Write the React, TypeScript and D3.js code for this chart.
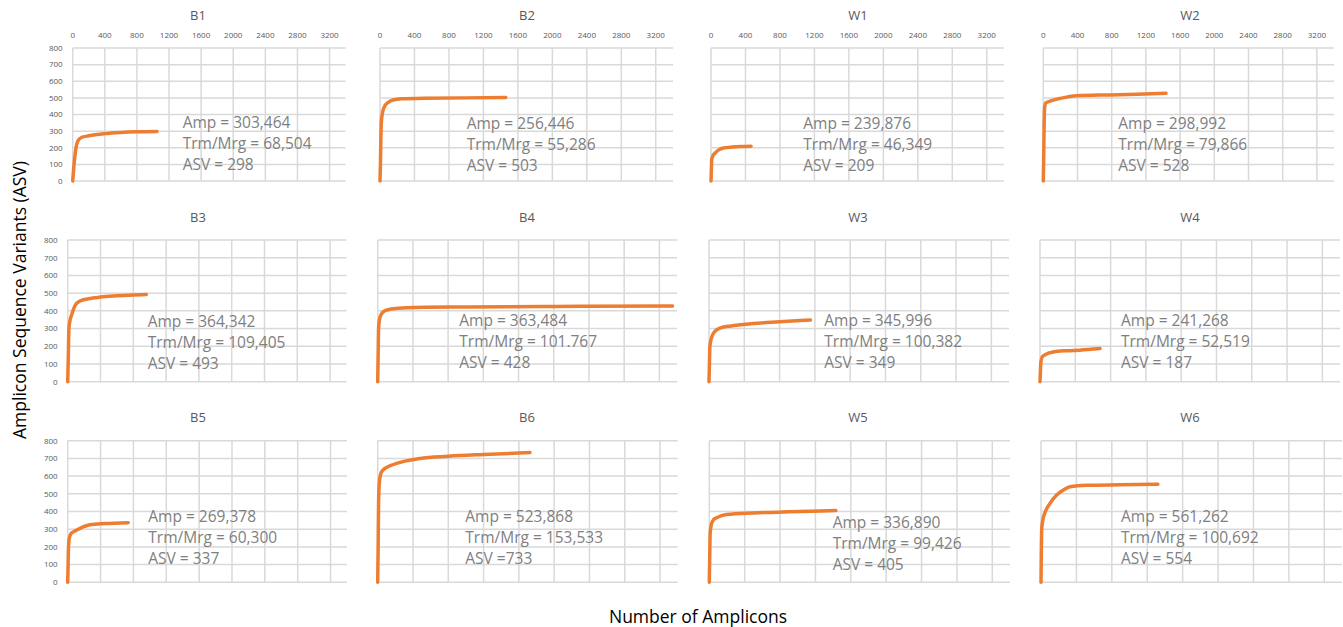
import React from "react";
import * as d3 from "d3";

// ---------- data ----------
const panelNames = ["B1", "B2", "W1", "W2", "B3", "B4", "W3", "W4", "B5", "B6", "W5", "W6"];
const ampLabels = ["303,464", "256,446", "239,876", "298,992", "364,342", "363,484", "345,996", "241,268", "269,378", "523,868", "336,890", "561,262"];
const trmLabels = ["68,504", "55,286", "46,349", "79,866", "109,405", "101.767", "100,382", "52,519", "60,300", "153,533", "99,426", "100,692"];
const asvLabels = ["ASV = 298", "ASV = 503", "ASV = 209", "ASV = 528", "ASV = 493", "ASV = 428", "ASV = 349", "ASV = 187", "ASV = 337", "ASV =733", "ASV = 405", "ASV = 554"];

const xTicks = [0, 400, 800, 1200, 1600, 2000, 2400, 2800, 3200];
const yTicks = [0, 100, 200, 300, 400, 500, 600, 700, 800];
const xMax = 3400;
const yMax = 800;

const curveB1 = [[0, 0], [15, 90], [30, 160], [45, 210], [70, 245], [110, 262], [200, 272], [400, 285], [600, 292], [800, 296], [1050, 298]];
const curveB2 = [[0, 0], [5, 100], [10, 250], [15, 350], [25, 400], [50, 445], [100, 475], [150, 487], [250, 495], [500, 497], [1000, 500], [1460, 503]];
const curveW1 = [[0, 0], [4, 60], [8, 125], [20, 150], [46, 167], [90, 187], [143, 198], [250, 204], [350, 207], [465, 209]];
const curveW2 = [[0, 0], [5, 150], [10, 350], [15, 440], [30, 470], [78, 480], [200, 497], [390, 513], [800, 518], [1100, 522], [1436, 528]];
const curveB3 = [[0, 0], [8, 150], [15, 300], [30, 350], [50, 380], [90, 430], [150, 456], [250, 468], [400, 478], [600, 485], [800, 490], [960, 493]];
const curveB4 = [[0, 0], [5, 150], [10, 300], [20, 350], [40, 380], [80, 400], [150, 410], [330, 418], [1000, 422], [2000, 425], [3350, 428]];
const curveW3 = [[0, 0], [5, 100], [10, 200], [30, 250], [60, 280], [125, 303], [250, 315], [500, 328], [800, 338], [1150, 349]];
const curveW4 = [[0, 0], [5, 60], [10, 110], [25, 140], [57, 152], [150, 168], [300, 175], [450, 178], [680, 187]];
const curveB5 = [[0, 0], [5, 100], [10, 200], [20, 250], [40, 275], [70, 285], [150, 305], [270, 325], [450, 332], [737, 337]];
const curveB6 = [[0, 0], [5, 200], [10, 450], [20, 570], [40, 620], [83, 644], [150, 660], [215, 672], [480, 700], [800, 712], [1200, 722], [1726, 733]];
const curveW5 = [[0, 0], [5, 150], [10, 280], [25, 330], [50, 355], [83, 365], [196, 383], [500, 392], [900, 398], [1430, 405]];
const curveW6 = [[0, 0], [3, 150], [8, 300], [20, 350], [50, 400], [102, 446], [177, 493], [250, 520], [328, 540], [517, 548], [900, 551], [1320, 554]];

const curves = [curveB1, curveB2, curveW1, curveW2, curveB3, curveB4, curveW3, curveW4, curveB5, curveB6, curveW5, curveW6];

// ---------- layout ----------
const rowsY = [
  { top: 48, bottom: 181 },
  { top: 240, bottom: 381.7 },
  { top: 440.7, bottom: 582.3 },
];
const panelX = [
  { left: 72.7, right: 345.6 }, { left: 380, right: 673 }, { left: 711, right: 1004 }, { left: 1043.3, right: 1334 },
  { left: 67.7, right: 346.5 }, { left: 377.7, right: 677 }, { left: 709, right: 1009 }, { left: 1040, right: 1340 },
  { left: 67.7, right: 347 }, { left: 377.7, right: 677.7 }, { left: 709.3, right: 1010 }, { left: 1041, right: 1342 },
];
const titleX = [198, 527, 858, 1190];
const titleY = [20, 221.7, 421.7];
const annotPos = [
  [182.7, 128.3], [466.7, 129.3], [803.3, 129.3], [1118.3, 129.3],
  [147.7, 326.7], [459.3, 326], [824.3, 325.7], [1121, 325.7],
  [148.3, 522.3], [465.3, 521.7], [832.7, 527.7], [1121, 521.7],
];

const FONT = "'Open Sans', sans-serif";
const GRID = "#d9d9d9";
const ORANGE = "#ED7D31";
const TICK_COLOR = "#595959";
const ANNOT_COLOR = "#808080";

function Panel({ i }: { i: number }) {
  const row = Math.floor(i / 4);
  const col = i % 4;
  const { top, bottom } = rowsY[row];
  const { left, right } = panelX[i];
  const x = d3.scaleLinear().domain([0, xMax]).range([left, right]);
  const y = d3.scaleLinear().domain([0, yMax]).range([bottom, top]);
  const line = d3
    .line<number[]>()
    .x((d) => x(d[0]))
    .y((d) => y(d[1]))
    .curve(d3.curveMonotoneX);
  const [ax, ay] = annotPos[i];
  return (
    <g>
      {yTicks.map((t) => (
        <line key={"h" + t} x1={left} x2={right} y1={y(t)} y2={y(t)} stroke={GRID} strokeWidth={1.5} />
      ))}
      {xTicks.map((t) => (
        <line key={"v" + t} x1={x(t)} x2={x(t)} y1={top} y2={bottom} stroke={GRID} strokeWidth={1.5} />
      ))}
      {row === 0 &&
        xTicks.map((t) => (
          <text key={"xt" + t} x={x(t)} y={38} textAnchor="middle" fontSize={8} fill={TICK_COLOR} fontFamily={FONT}>
            {t}
          </text>
        ))}
      {col === 0 &&
        yTicks.map((t) => (
          <text key={"yt" + t} x={left - 10} y={y(t)} dy="0.35em" textAnchor="end" fontSize={8} fill={TICK_COLOR} fontFamily={FONT}>
            {t}
          </text>
        ))}
      <text x={titleX[col]} y={titleY[row]} textAnchor="middle" fontSize={13} fill={TICK_COLOR} fontFamily={FONT}>
        {panelNames[i]}
      </text>
      <path d={line(curves[i]) || ""} fill="none" stroke={ORANGE} strokeWidth={3.5} strokeLinecap="round" strokeLinejoin="round" />
      <g fontFamily={FONT} fontSize={15.5} fill={ANNOT_COLOR}>
        <text x={ax} y={ay}>{"Amp = " + ampLabels[i]}</text>
        <text x={ax} y={ay + 21}>{"Trm/Mrg = " + trmLabels[i]}</text>
        <text x={ax} y={ay + 42}>{asvLabels[i]}</text>
      </g>
    </g>
  );
}

export default function App() {
  return (
    <svg
      width={1343}
      height={627}
      style={{ position: "absolute", left: 0, top: 0, background: "#fff" }}
    >
      <rect x={0} y={0} width={1343} height={627} fill="#fff" />
      {panelNames.map((_, i) => (
        <Panel key={i} i={i} />
      ))}
      <text
        transform="translate(26,300) rotate(-90)"
        textAnchor="middle"
        fontSize={17.5}
        fill="#000"
        fontFamily={FONT}
      >
        Amplicon Sequence Variants (ASV)
      </text>
      <text x={698} y={623} textAnchor="middle" fontSize={17.5} fill="#000" fontFamily={FONT}>
        Number of Amplicons
      </text>
    </svg>
  );
}
